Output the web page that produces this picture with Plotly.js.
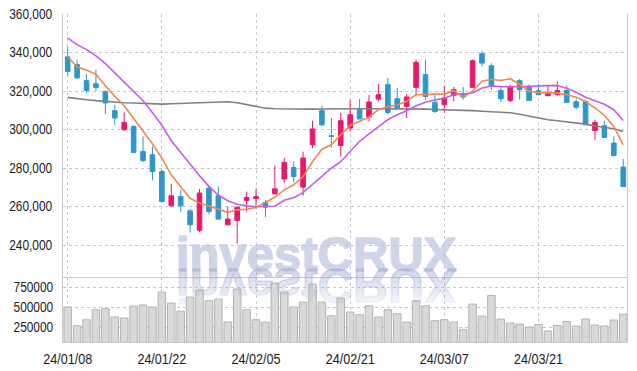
<!DOCTYPE html>
<html><head><meta charset="utf-8">
<script src="https://cdn.plot.ly/plotly-3.0.1.min.js"></script>
<style>html,body{margin:0;padding:0;background:#fff;}#chart{width:637px;height:371px;}</style>
</head><body><div id="chart"></div>
<script>
const dates = ["24/01/08","24/01/09","24/01/10","24/01/11","24/01/12","24/01/15","24/01/16","24/01/17","24/01/18","24/01/19",
"24/01/22","24/01/23","24/01/24","24/01/25","24/01/26","24/01/29","24/01/30","24/01/31","24/02/01","24/02/02",
"24/02/05","24/02/06","24/02/07","24/02/08","24/02/13","24/02/14","24/02/15","24/02/16","24/02/19","24/02/20",
"24/02/21","24/02/22","24/02/23","24/02/26","24/02/27","24/02/28","24/02/29","24/03/04","24/03/05","24/03/06",
"24/03/07","24/03/08","24/03/11","24/03/12","24/03/13","24/03/14","24/03/15","24/03/18","24/03/19","24/03/20",
"24/03/21","24/03/22","24/03/25","24/03/26","24/03/27","24/03/28","24/03/29","24/04/01","24/04/02","24/04/03"];
const openP  = [337700,333700,325400,323800,319800,309800,299900,301600,288600,286900,
278200,260400,265200,257800,247700,269600,265600,250500,252800,263200,
264200,262100,266600,274300,280300,270100,292100,309800,296800,291700,
300800,310300,306500,315800,323300,316000,312000,321900,328500,314100,
312900,317700,318600,321900,339400,333100,320300,315100,325400,322100,
320200,317600,318100,320300,314400,314600,299500,302000,293000,280500];
const highP  = [342900,336300,329000,331100,320200,312900,308900,302000,296400,291200,
279500,271800,268700,258700,269100,270800,270400,260100,259900,267800,
269200,263500,281200,285200,283600,288500,304600,312400,306000,308600,
315500,316000,318100,323600,326800,321600,318400,336300,336300,319000,
322800,322100,322100,336300,340900,334500,322100,323300,326200,323300,
323600,322800,325000,322800,315800,315500,305100,304600,296400,284700];
const lowP   = [327900,326400,319000,319800,308100,302500,299400,288000,282900,273600,
262500,259700,257300,246500,246800,256000,253100,250300,240700,257300,
258900,254500,266400,272400,272500,265600,290400,301800,290500,286000,
299000,305400,304200,314600,307700,310300,306000,318100,315500,308600,
308600,314600,315500,321700,332800,320700,314300,314300,315500,315000,
317800,317200,317700,313800,310500,302300,294700,295700,286000,270400];
const closeP = [330200,326800,320300,321900,313800,306000,303700,288100,283900,278200,
262600,265600,260400,250500,267000,257500,253500,253500,259700,264700,
265200,259700,269200,282900,275600,285200,300300,302500,296400,304600,
307700,305500,314300,318100,308900,311200,316900,334900,317200,309400,
316400,320700,316900,335700,334500,322800,316000,322100,320700,315100,
318100,319000,320300,314100,311600,302500,303700,295900,286500,270400];
const maShort = [337700,332600,330800,328700,322800,317200,312400,306000,299000,292600,
285200,276500,270300,264300,261800,260200,258600,257000,258300,258600,
259600,262000,264800,268700,271300,275500,283300,289800,292100,297300,
302200,304300,306400,310300,311800,312700,314700,318100,318400,318400,
318400,320200,317000,319900,325100,326100,325500,326400,323500,319900,
319300,319000,318900,318100,316800,314500,311200,307400,301500,292100];
const maMid = [347500,344100,341500,338300,334200,329500,324800,320200,315000,308700,
302200,294200,288200,281700,276000,270500,265900,263000,261200,260400,
259900,260000,260200,263300,264600,267200,271300,275500,279900,283300,
288700,293900,297800,301500,305100,307700,309800,312400,314200,315300,
316300,318100,318600,319000,321600,322600,322300,322100,322200,322500,
322800,322800,322900,321500,319400,316800,315000,313100,310300,304700];
const maLong = [316700,316000,315500,315000,314600,314300,313900,313800,313500,313300,
313200,313400,313600,313800,314100,314300,314500,314400,313900,312900,
311800,311100,310800,310700,310700,310600,310600,310700,310800,310800,
310800,310800,310800,310800,310800,310800,310800,310800,310600,310400,
310300,310100,309900,309800,309500,309200,309000,308700,307900,306900,
306000,305100,304600,304100,303500,302800,301800,301200,300400,299000];
const volume = [505000,271000,346000,471000,484000,380000,367000,517000,530000,505000,
692000,555000,455000,630000,717000,584000,605000,317000,730000,471000,
346000,317000,805000,692000,505000,567000,792000,567000,396000,617000,
442000,409000,521000,380000,471000,421000,317000,584000,521000,334000,
346000,317000,221000,542000,392000,650000,355000,305000,292000,255000,
288000,205000,275000,325000,267000,355000,280000,267000,342000,417000];
const tickDates = ["24/01/08","24/01/22","24/02/05","24/02/21","24/03/07","24/03/21"];
const watermark = "investCRUX";

const UP = '#e8196b', DOWN = '#2d97c9';
const FONT = 'Liberation Sans, Arial, sans-serif';
const GRID = '#c3c6d6';
const TICKFONT = {family:FONT, size:14, color:'#1a1a1a'};
const WM = 'rgb(160,172,212)';

const data = [
  {type:'bar', x:dates, y:volume, xaxis:'x2', yaxis:'y2',
   marker:{color:'#d8dad9', line:{color:'#b3b3b3', width:1}}, hoverinfo:'skip'},
  {type:'scatter', mode:'lines', x:dates, y:maLong, line:{color:'#808080', width:1.6}, hoverinfo:'skip'},
  {type:'scatter', mode:'lines', x:dates, y:maMid, line:{color:'#c95ae8', width:1.6}, hoverinfo:'skip'},
  {type:'scatter', mode:'lines', x:dates, y:maShort, line:{color:'#f0884f', width:1.6}, hoverinfo:'skip'},
  {type:'candlestick', x:dates, open:openP, high:highP, low:lowP, close:closeP, whiskerwidth:0,
   increasing:{line:{color:UP, width:1}, fillcolor:UP},
   decreasing:{line:{color:DOWN, width:1}, fillcolor:DOWN}, hoverinfo:'skip'}
];

const axX = {type:'category', categoryorder:'array', categoryarray:dates, range:[-0.5, 59.4],
  showgrid:true, gridcolor:GRID, griddash:'dot', gridwidth:1, tickvals:tickDates,
  showline:true, linecolor:'#c8c8c8', linewidth:1, ticks:'', zeroline:false,
  rangeslider:{visible:false}, fixedrange:true};

const layout = {
  width:637, height:371, margin:{l:63, r:10, t:14, b:29},
  paper_bgcolor:'#fff', plot_bgcolor:'#fff', showlegend:false,
  xaxis: Object.assign({}, axX, {anchor:'y', showticklabels:false}),
  xaxis2: Object.assign({}, axX, {anchor:'y2', matches:'x', showticklabels:true,
     tickfont:TICKFONT, ticklabelstandoff:4}),
  yaxis: {domain:[0.198, 1], range:[223400, 360000], dtick:20000, tick0:0, tickformat:',',
     showgrid:true, gridcolor:GRID, griddash:'dot', zeroline:false,
     showline:true, mirror:true, linecolor:'#c8c8c8', ticks:'', ticklabelstandoff:7,
     tickfont:TICKFONT},
  yaxis2: {domain:[0, 0.198], range:[67500, 880000], tickvals:[250000,500000,750000], tickformat:'d',
     showgrid:true, gridcolor:GRID, griddash:'dot', zeroline:false,
     showline:true, mirror:true, linecolor:'#c8c8c8', ticks:'', ticklabelstandoff:6,
     tickfont:TICKFONT},
  annotations:[{text:'<b>' + watermark + '</b>', xref:'paper', yref:'paper', x:0.196, y:0.2668, xanchor:'left', yanchor:'middle',
     showarrow:false, font:{family:FONT, size:49, weight:700, color:WM}}]
};

Plotly.newPlot('chart', data, layout, {staticPlot:true, displayModeBar:false}).then(function(gd){
  function squeeze(sel, k){
    gd.querySelectorAll(sel).forEach(function(tx){
      const x = parseFloat(tx.getAttribute('x')) || 0;
      const ex = tx.getAttribute('transform') || '';
      tx.setAttribute('transform', ex + ' translate(' + x + ' 0) scale(' + k + ' 1) translate(' + (-x) + ' 0)');
    });
  }
  squeeze('.ytick text', 0.85); squeeze('.y2tick text', 0.85); squeeze('.x2tick text', 0.9);

  const ann = gd.querySelector('.annotation');
  if (!ann) return;
  const svgns = 'http://www.w3.org/2000/svg';
  const refl = ann.cloneNode(true);
  ann.parentNode.appendChild(refl);
  const rt = refl.querySelector('.annotation-text');
  const bb = rt.getBBox();
  const ym = bb.y + bb.height*0.80;
  const defs = gd.querySelector('svg.main-svg defs');
  const grad = document.createElementNS(svgns, 'linearGradient');
  grad.setAttribute('id', 'wmfade');
  grad.setAttribute('x1','0'); grad.setAttribute('y1','0'); grad.setAttribute('x2','0'); grad.setAttribute('y2','1');
  [[0,0],[0.5,0.3],[1,0.6]].forEach(function(s){
    const st = document.createElementNS(svgns, 'stop');
    st.setAttribute('offset', s[0]); st.setAttribute('stop-color', WM); st.setAttribute('stop-opacity', s[1]);
    grad.appendChild(st);
  });
  if (defs) defs.appendChild(grad);
  const ex = rt.getAttribute('transform') || '';
  rt.setAttribute('transform', ex + ' translate(0 ' + (2*ym) + ') scale(1 -1)');
  [rt].concat(Array.from(rt.querySelectorAll('tspan'))).forEach(function(s){
    s.style.fill = 'url(#wmfade)'; s.style.stroke = 'url(#wmfade)'; s.style.strokeWidth = '1.5px';
  });
  const mt = ann.querySelector('.annotation-text');
  [mt].concat(Array.from(mt.querySelectorAll('tspan'))).forEach(function(s){
    s.style.fill = WM; s.style.stroke = WM; s.style.strokeWidth = '1.5px'; s.style.strokeLinejoin = 'round';
  });
  mt.style.opacity = '0.5';
  const below = gd.querySelector('svg.main-svg .layer-below');
  if (below) below.appendChild(ann);
});
</script>
</body></html>
